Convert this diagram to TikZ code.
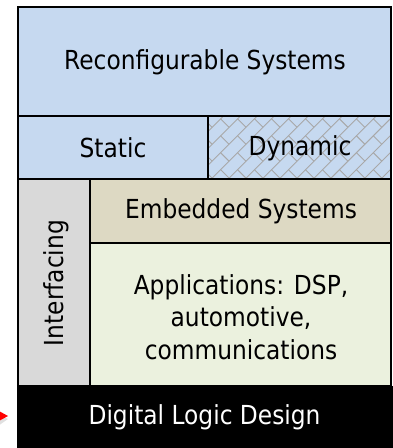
\documentclass[tikz,border=0pt]{standalone}
\usepackage{fontspec}
\setmainfont{DejaVu Sans}[FakeStretch=0.89]
\usetikzlibrary{calc}
\definecolor{cblue}{HTML}{C6D9F0}
\definecolor{cgray}{HTML}{D9D9D9}
\definecolor{ctan}{HTML}{DDD9C3}
\definecolor{cgreen}{HTML}{EBF1DE}
\definecolor{chatch}{HTML}{A8A8A8}
\tikzset{
  layer/.style={draw=black, line width=2.8pt, rectangle},
  hatch/.style={draw=chatch, line width=0.9pt},
  lbl/.style={font=\fontsize{26.2}{32.5}\selectfont, text=black, align=center, inner sep=0pt},
}
\begin{document}
\begin{tikzpicture}[x=1pt,y=-1pt]
\useasboundingbox (0,0) rectangle (392,448);
% boxes
\path[layer, fill=cblue] (18,7) rectangle (391,116);
\path[fill=cblue] (18,116) rectangle (391,179);
\begin{scope}
\clip (208,116) rectangle (391,179);
\foreach \k in {18,...,35}{
  \pgfmathsetmacro\a{\k*12}
  \draw[hatch] ({\a/1.4142},{\a/1.4142}) -- ({(\a+260)/1.4142},{(\a-260)/1.4142});
  \foreach \m in {0,...,11}{
    \pgfmathsetmacro\b{\m*24+mod(\k,2)*12}
    \draw[hatch] ({(\a+\b)/1.4142},{(\a-\b)/1.4142}) -- ({(\a+12+\b)/1.4142},{(\a+12-\b)/1.4142});
  }
}
\end{scope}
\path[layer] (18,116) rectangle (208,179);
\path[layer] (208,116) rectangle (391,179);
\path[layer, fill=cgray] (18,179) rectangle (90,386);
\path[layer, fill=ctan] (90,179) rectangle (391,243);
\path[layer, fill=cgreen] (90,243) rectangle (391,386);
\path[fill=black] (16.6,386) rectangle (395,450);
% labels
\node[lbl] (reconf) at (205,62) {Reconfigurable Systems};
\node[lbl] (static) at (113,148) {Static};
\node[lbl] (dynamic) at (300,148) {Dynamic};
\node[lbl] (embedded) at (241,211) {Embedded Systems};
\node[lbl] (apps) at (241,317) {Applications: DSP,\\automotive,\\communications};
\node[lbl, rotate=90] (interf) at (56,283) {Interfacing};
\node[lbl, text=white] (dld) at (204.5,417) {Digital Logic Design};
% red arrow tip
\coordinate (tip) at (8,416);
\fill[black!20, opacity=0.6] (-2,414) -- ($(tip)+(0,3)$) -- (-2,426) -- cycle;
\fill[red] (-2,410.5) -- (tip) -- (-2,421.5) -- cycle;
\end{tikzpicture}
\end{document}
